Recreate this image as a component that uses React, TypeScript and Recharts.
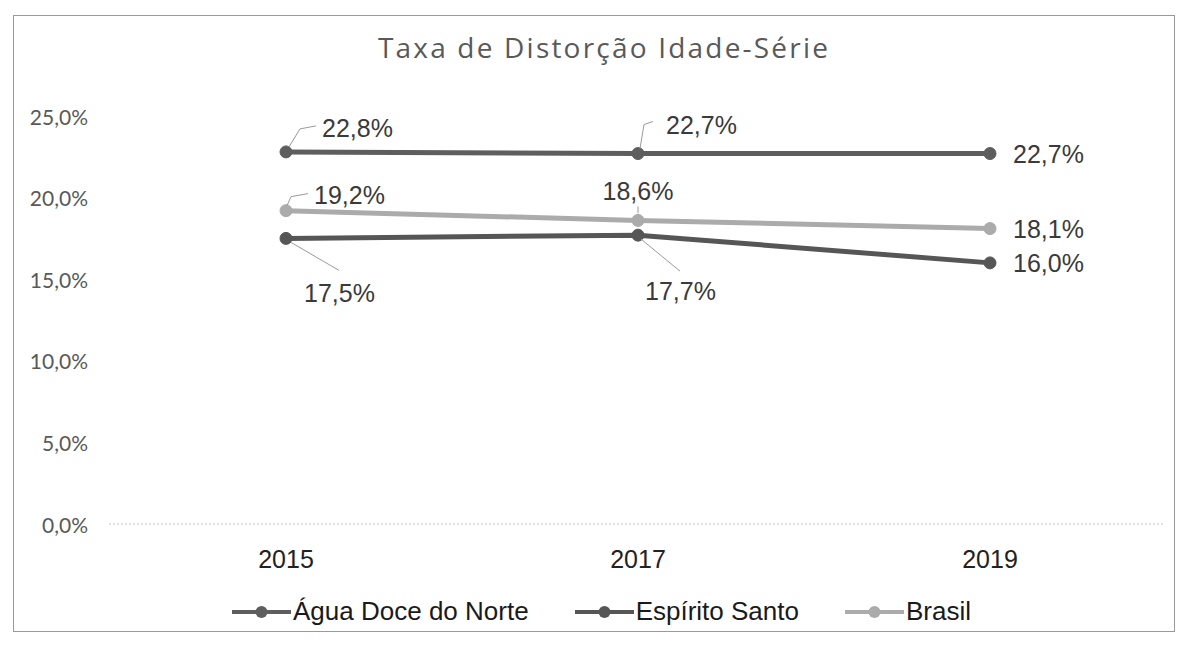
import React from 'react';
import { LineChart, Line, XAxis, YAxis, LabelList } from 'recharts';

const years = ['2015', '2017', '2019'];
const aguaDoce = [22.8, 22.7, 22.7];
const espiritoSanto = [17.5, 17.7, 16.0];
const brasil = [19.2, 18.6, 18.1];
const yTicks = [0, 5, 10, 15, 20, 25];

const data = years.map((year, i) => ({
  year,
  agua: aguaDoce[i],
  es: espiritoSanto[i],
  br: brasil[i],
}));

const fmt = (v: number) => v.toFixed(1).replace('.', ',') + '%';

// where each data label sits relative to its point (plus optional leader line)
type Place = { dx: number; dy: number; anchor: 'start' | 'middle'; leader?: number[][] };

const series: { key: string; name: string; color: string; places: Place[] }[] = [
  {
    key: 'agua',
    name: 'Água Doce do Norte',
    color: '#5e5e5e',
    places: [
      { dx: 36, dy: -15, anchor: 'start', leader: [[3, -5], [14, -23], [30, -26]] },
      { dx: 28, dy: -20, anchor: 'start', leader: [[2, -5], [6, -29], [15, -32]] },
      { dx: 23, dy: 9, anchor: 'start' },
    ],
  },
  {
    key: 'es',
    name: 'Espírito Santo',
    color: '#565656',
    places: [
      { dx: 18, dy: 64, anchor: 'start', leader: [[5, 4], [53, 32]] },
      { dx: 7, dy: 65, anchor: 'start', leader: [[3, 4], [42, 36]] },
      { dx: 23, dy: 9, anchor: 'start' },
    ],
  },
  {
    key: 'br',
    name: 'Brasil',
    color: '#ababab',
    places: [
      { dx: 28, dy: -7, anchor: 'start', leader: [[1, -5], [5, -14], [22, -17]] },
      { dx: 0, dy: -20, anchor: 'middle', leader: [[0, -7], [0, -14]] },
      { dx: 23, dy: 9, anchor: 'start' },
    ],
  },
];

const makeLabel = (places: Place[]) => (props: any) => {
  const { x, y, value, index } = props;
  const p = places[index];
  if (!p) return null;
  return (
    <g>
      {p.leader && (
        <polyline
          points={p.leader.map(([a, b]) => `${x + a},${y + b}`).join(' ')}
          fill="none"
          stroke="#9a9a9a"
          strokeWidth={1}
        />
      )}
      <text
        x={x + p.dx}
        y={y + p.dy}
        textAnchor={p.anchor}
        fontFamily="'Liberation Sans', Arial, sans-serif"
        fontSize={25}
        fill="#3a3a3a"
      >
        {fmt(value)}
      </text>
    </g>
  );
};

const YTick = (props: any) => {
  const { y, payload } = props;
  return (
    <text
      x={88}
      y={y}
      textAnchor="end"
      dominantBaseline="central"
      fontFamily="Lato, 'Open Sans', sans-serif"
      fontSize={21}
      fill="#595959"
    >
      {fmt(payload.value)}
    </text>
  );
};

const XTick = (props: any) => {
  const { x, y, payload } = props;
  return (
    <text
      x={x}
      y={y + 42}
      textAnchor="middle"
      fontFamily="'Liberation Sans', Arial, sans-serif"
      fontSize={25}
      fill="#222"
    >
      {payload.value}
    </text>
  );
};

const LegendMarker = ({ color }: { color: string }) => (
  <svg width={59} height={16} style={{ display: 'block' }}>
    <line x1={0} y1={8} x2={59} y2={8} stroke={color} strokeWidth={4} />
    <circle cx={29.5} cy={8} r={6} fill={color} />
  </svg>
);

export default function App() {
  return (
    <div style={{ position: 'absolute', left: 0, top: 0, width: 1187, height: 648, background: '#fff' }}>
      <svg width={1187} height={648} style={{ position: 'absolute', left: 0, top: 0 }}>
        <rect x={13.5} y={15.5} width={1161} height={616} fill="none" stroke="#9a9a9a" strokeWidth={1} />
        <text
          x={604}
          y={58}
          textAnchor="middle"
          fontFamily="'Open Sans', Lato, sans-serif"
          fontSize={28}
          letterSpacing={2.2}
          fill="#595959"
        >
          Taxa de Distorção Idade-Série
        </text>
      </svg>
      <div style={{ position: 'absolute', left: 0, top: 0 }}>
        <LineChart width={1187} height={648} data={data} margin={{ top: 116, right: 24, bottom: 74, left: 39 }}>
          <XAxis
            dataKey="year"
            height={50}
            padding={{ left: 177, right: 173 }}
            axisLine={{ stroke: '#c4c4c4', strokeDasharray: '2 2' }}
            tickLine={false}
            tickSize={0}
            tick={<XTick />}
          />
          <YAxis
            domain={[0, 25]}
            ticks={yTicks}
            width={70}
            axisLine={false}
            tickLine={false}
            tick={<YTick />}
          />
          {series.map((s) => (
            <Line
              key={s.key}
              type="linear"
              dataKey={s.key}
              name={s.name}
              stroke={s.color}
              strokeWidth={5}
              dot={{ r: 6, fill: s.color, stroke: s.color, strokeWidth: 1 }}
              activeDot={false}
              isAnimationActive={false}
            >
              <LabelList dataKey={s.key} content={makeLabel(s.places)} />
            </Line>
          ))}
        </LineChart>
      </div>
      <div
        style={{
          position: 'absolute',
          left: 0,
          top: 596,
          width: 1187,
          display: 'flex',
          justifyContent: 'center',
          alignItems: 'center',
          gap: 46,
          paddingLeft: 16,
          boxSizing: 'border-box',
          fontFamily: "'Liberation Sans', Arial, sans-serif",
          fontSize: 26,
          color: '#1a1a1a',
        }}
      >
        {series.map((s) => (
          <div key={s.key} style={{ display: 'flex', alignItems: 'center', gap: 2 }}>
            <LegendMarker color={s.color} />
            <span>{s.name}</span>
          </div>
        ))}
      </div>
    </div>
  );
}
